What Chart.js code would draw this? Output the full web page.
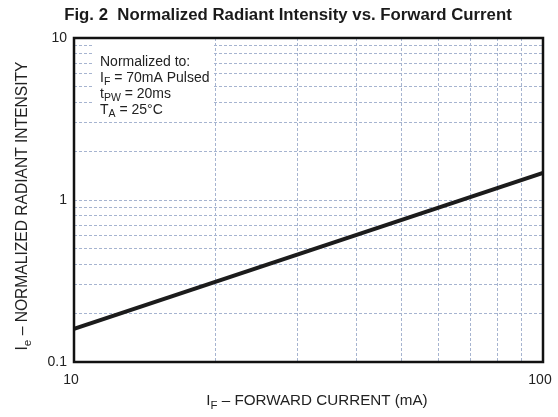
<!DOCTYPE html>
<html>
<head>
<meta charset="utf-8">
<script src="https://cdn.jsdelivr.net/npm/chart.js@4.4.1/dist/chart.umd.min.js"></script>
<style>
  html, body { margin: 0; padding: 0; background: #fff; }
  #wrap { width: 558px; height: 417px; }
</style>
</head>
<body>
<div id="wrap"><canvas id="radiantChart"></canvas></div>
<script>
// data
const forwardCurrent = [10, 100];          // mA
const radiantIntensity = [0.16, 1.47];     // normalized
const xTickLabels = [10, 100];
const yTickLabels = [0.1, 1, 10];

const titleText = 'Fig. 2  Normalized Radiant Intensity vs. Forward Current';
// text pieces, [text, isSubscript]
const xTitle = [['I', false], ['F', true], [' \u2013 FORWARD CURRENT (mA)', false]];
const yTitle = [['I', false], ['e', true], [' \u2013 NORMALIZED RADIANT INTENSITY', false]];
const noteLines = [
    [['Normalized to:', false]],
    [['I', false], ['F', true], [' = 70mA Pulsed', false]],
    [['t', false], ['PW', true], [' = 20ms', false]],
    [['T', false], ['A', true], [' = 25\u00B0C', false]]
];

const FONT = '"Liberation Sans", Arial, sans-serif';

function isTick(list, v) {
    return list.some(t => Math.abs(t - v) < t * 1e-6);
}

// keep only 1..9 x 10^n grid lines (log scale adds 11, 12, ... otherwise)
function keepDecadeSteps(scale) {
    scale.ticks = scale.ticks.filter(t => {
        const m = t.value / Math.pow(10, Math.floor(Math.log10(t.value) + 1e-9));
        return Math.abs(m - Math.round(m)) < 1e-6;
    });
}

// draws text with subscripts starting at x
function drawPieces(ctx, pieces, x, y, size) {
    let cx = x;
    pieces.forEach(([txt, sub]) => {
        const s = sub ? size * 0.75 : size;
        ctx.font = s + 'px ' + FONT;
        ctx.fillText(txt, cx, sub ? y + size * 0.3 : y);
        cx += ctx.measureText(txt).width;
    });
    return cx - x;
}

function piecesWidth(ctx, pieces, size) {
    let w = 0;
    pieces.forEach(([txt, sub]) => {
        ctx.font = (sub ? size * 0.75 : size) + 'px ' + FONT;
        w += ctx.measureText(txt).width;
    });
    return w;
}

const overlay = {
    id: 'overlay',
    beforeDatasetsDraw(chart) {
        const ctx = chart.ctx;
        ctx.save();
        // white box behind the note
        ctx.fillStyle = '#fff';
        ctx.fillRect(93, chart.chartArea.top + 1, 121, 78);
        ctx.fillStyle = '#222';
        ctx.textBaseline = 'middle';
        ctx.textAlign = 'left';
        noteLines.forEach((line, i) => {
            drawPieces(ctx, line, 100, 62 + i * 16, 14);
        });
        ctx.restore();
    },
    afterDraw(chart) {
        const ctx = chart.ctx;
        const a = chart.chartArea;
        ctx.save();
        // plot frame
        ctx.strokeStyle = '#111';
        ctx.lineWidth = 2.5;
        ctx.strokeRect(a.left, a.top, a.right - a.left, a.bottom - a.top);

        // title
        ctx.fillStyle = '#1a1a1a';
        ctx.font = 'bold 16.8px ' + FONT;
        ctx.textAlign = 'center';
        ctx.textBaseline = 'middle';
        ctx.fillText(titleText, 288, 15);

        // x axis title
        ctx.textAlign = 'left';
        ctx.fillStyle = '#222';
        const xw = piecesWidth(ctx, xTitle, 15.2);
        drawPieces(ctx, xTitle, 317 - xw / 2, 401, 15.2);

        // y axis title, rotated
        ctx.save();
        ctx.translate(23, 206);
        ctx.rotate(-Math.PI / 2);
        const yw = piecesWidth(ctx, yTitle, 15.6);
        drawPieces(ctx, yTitle, -yw / 2, 0, 15.6);
        ctx.restore();
        ctx.restore();
    }
};

const gridOpts = {
    color: '#a6b4d0',
    lineWidth: 1,
    drawTicks: false
};

new Chart(document.getElementById('radiantChart'), {
    type: 'line',
    data: {
        datasets: [{
            data: forwardCurrent.map((c, i) => ({ x: c, y: radiantIntensity[i] })),
            borderColor: '#1c1c1c',
            borderWidth: 4,
            pointRadius: 0,
            fill: false,
            tension: 0
        }]
    },
    options: {
        responsive: true,
        maintainAspectRatio: false,
        animation: false,
        layout: { padding: { left: 0, top: 38, right: 15, bottom: 0 } },
        plugins: {
            legend: { display: false },
            title: { display: false },
            tooltip: { enabled: false }
        },
        scales: {
            x: {
                type: 'logarithmic',
                min: 10,
                max: 100,
                grid: gridOpts,
                border: { display: false, dash: [3, 2] },
                ticks: {
                    padding: 10,
                    labelOffset: -3,
                    color: '#222',
                    font: { family: FONT, size: 14 },
                    maxRotation: 0,
                    autoSkip: false,
                    callback: v => isTick(xTickLabels, v) ? String(v) : ''
                },
                afterBuildTicks: keepDecadeSteps,
                afterFit: s => { s.height = 55; s.paddingLeft = 0; s.paddingRight = 0; }
            },
            y: {
                type: 'logarithmic',
                min: 0.1,
                max: 10,
                grid: gridOpts,
                border: { display: false, dash: [3, 2] },
                ticks: {
                    padding: 7,
                    color: '#222',
                    font: { family: FONT, size: 14 },
                    autoSkip: false,
                    callback: v => isTick(yTickLabels, v) ? String(v) : ''
                },
                afterBuildTicks: keepDecadeSteps,
                afterFit: s => { s.width = 74; s.paddingTop = 0; s.paddingBottom = 0; }
            }
        }
    },
    plugins: [overlay]
});
</script>
</body>
</html>
